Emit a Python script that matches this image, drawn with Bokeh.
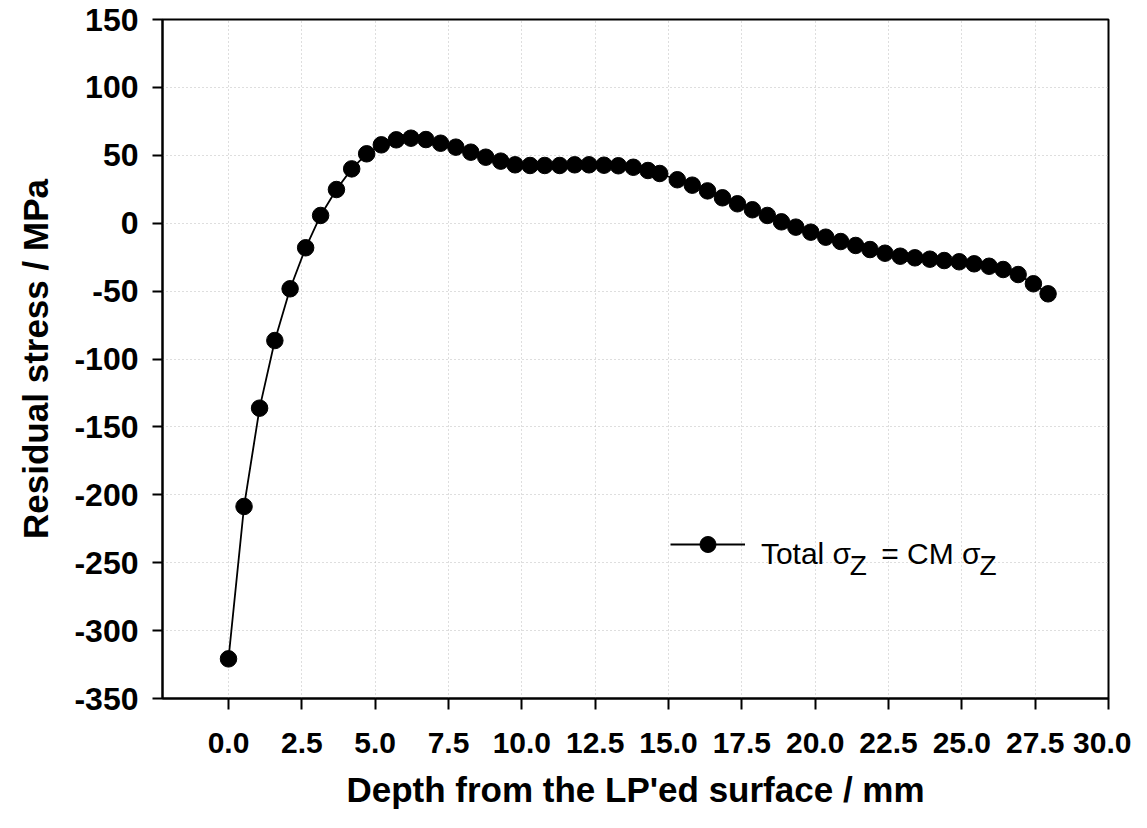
from bokeh.plotting import figure
from bokeh.models import (Range1d, FixedTicker, NumeralTickFormatter, Legend,
                          LegendItem, Label, PrintfTickFormatter)
from bokeh.embed import file_html
from bokeh.resources import INLINE

# ---- data ----
depth_mm = [0.00, 0.53, 1.06, 1.58, 2.10, 2.63, 3.14, 3.68, 4.20, 4.71,
            5.21, 5.72, 6.22, 6.73, 7.23, 7.75, 8.26, 8.77, 9.28, 9.77,
            10.28, 10.78, 11.29, 11.80, 12.29, 12.80, 13.29, 13.80, 14.30, 14.70,
            15.30, 15.81, 16.33, 16.84, 17.35, 17.86, 18.37, 18.85, 19.34, 19.85,
            20.36, 20.87, 21.38, 21.87, 22.38, 22.90, 23.40, 23.91, 24.40, 24.91,
            25.42, 25.93, 26.41, 26.92, 27.44, 27.94]
stress_mpa = [-320.8, -208.6, -136.2, -86.4, -48.3, -18.1, 5.7, 24.8, 40.0, 51.1,
              57.7, 61.4, 62.6, 61.6, 58.9, 56.0, 52.3, 48.6, 45.7, 43.0,
              42.5, 42.5, 42.5, 43.0, 43.0, 42.7, 42.3, 41.2, 38.8, 36.6,
              32.0, 28.0, 23.8, 18.7, 14.3, 9.9, 5.7, 1.0, -2.9, -6.6,
              -10.3, -13.5, -16.4, -19.4, -22.1, -24.3, -25.5, -26.5, -27.5, -28.4,
              -29.9, -31.7, -34.1, -37.8, -44.6, -52.0]
x_ticks = [0.0, 2.5, 5.0, 7.5, 10.0, 12.5, 15.0, 17.5, 20.0, 22.5, 25.0, 27.5, 30.0]
y_ticks = [-350, -300, -250, -200, -150, -100, -50, 0, 50, 100, 150]
x_title = "Depth from the LP'ed surface / mm"
y_title = "Residual stress / MPa"
legend_parts = ["Total σ", "Z", "= CM σ", "Z"]

FONT = "Liberation Sans"

p = figure(width=1131, height=812, output_backend="svg", toolbar_location=None,
           x_range=Range1d(-2.25, 30.0), y_range=Range1d(-350, 150),
           min_border_left=162, min_border_right=23, min_border_top=19,
           min_border_bottom=114)
p.background_fill_color = "white"
p.border_fill_color = "white"
p.outline_line_color = "black"
p.outline_line_width = 2

for ax in (p.xaxis[0], p.yaxis[0]):
    ax.axis_line_width = 2
    ax.axis_line_color = "black"
    ax.major_tick_line_width = 2
    ax.major_tick_line_color = "black"
    ax.major_tick_in = 0
    ax.minor_tick_line_color = None
    ax.major_label_text_font = FONT
    ax.major_label_text_font_style = "bold"
    ax.major_label_text_color = "black"
    ax.axis_label_text_font = FONT
    ax.axis_label_text_font_style = "bold"
    ax.axis_label_text_font_size = "35px"
    ax.axis_label_text_color = "black"

p.xaxis[0].ticker = FixedTicker(ticks=x_ticks)
p.xaxis[0].formatter = NumeralTickFormatter(format="0.0")
p.xaxis[0].major_label_text_font_size = "30px"
p.xaxis[0].major_tick_out = 11
p.xaxis[0].major_label_standoff = 23
p.xaxis[0].axis_label = x_title
p.xaxis[0].axis_label_standoff = 14

p.yaxis[0].ticker = FixedTicker(ticks=y_ticks)
p.yaxis[0].formatter = PrintfTickFormatter(format="%d")
p.yaxis[0].major_label_text_font_size = "32px"
p.yaxis[0].major_tick_out = 10
p.yaxis[0].major_label_standoff = 14
p.yaxis[0].axis_label = y_title
p.yaxis[0].axis_label_standoff = 16

for g in (p.xgrid[0], p.ygrid[0]):
    g.grid_line_color = "#bdbdbd"
    g.grid_line_dash = "1 3"
    g.grid_line_width = 1

r_line = p.line(depth_mm, stress_mpa, line_color="black", line_width=1.8)
r_pts = p.scatter(depth_mm, stress_mpa, size=16.5, fill_color="black",
                  line_color="black", marker="circle")

leg = Legend(items=[LegendItem(label=" ", renderers=[r_line, r_pts])],
             location=(508, 134), glyph_width=75, glyph_height=40,
             padding=0, spacing=0, margin=0, label_standoff=0,
             label_text_font_size="2px", label_height=40,
             border_line_alpha=0, background_fill_alpha=0)
p.add_layout(leg)

# legend text (layout positions, data units)
ly0, lsub = -243.2, -252.0
p.add_layout(Label(x=18.15, y=ly0, text=legend_parts[0], text_font=FONT,
                   text_font_size="30px", text_baseline="alphabetic", text_color="black"))
p.add_layout(Label(x=21.18, y=lsub, text=legend_parts[1], text_font=FONT,
                   text_font_size="28px", text_baseline="alphabetic", text_color="black"))
p.add_layout(Label(x=22.25, y=ly0, text=legend_parts[2], text_font=FONT,
                   text_font_size="30px", text_baseline="alphabetic", text_color="black"))
p.add_layout(Label(x=25.60, y=lsub, text=legend_parts[3], text_font=FONT,
                   text_font_size="28px", text_baseline="alphabetic", text_color="black"))

open("out.html", "w").write(file_html(p, INLINE))
